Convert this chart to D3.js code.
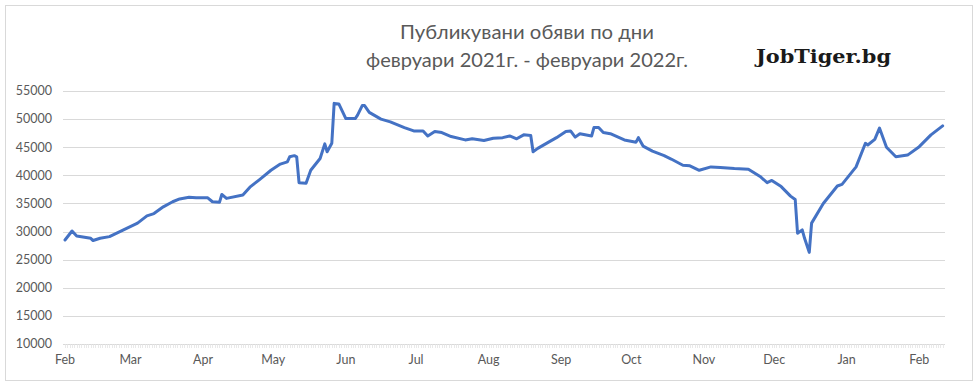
<!DOCTYPE html>
<html>
<head>
<meta charset="utf-8">
<script src="https://cdn.jsdelivr.net/npm/d3@7"></script>
<style>
  body { margin: 0; background: #fff; }
</style>
</head>
<body>
<div id="chart"></div>
<script>
var width = 980,
    height = 386;

// values (date, job ads per day)
var dates = ["2021-02-01","2021-02-04","2021-02-06","2021-02-12","2021-02-13","2021-02-16","2021-02-20","2021-02-26",
  "2021-03-04","2021-03-08","2021-03-11","2021-03-15","2021-03-19","2021-03-22","2021-03-26","2021-03-29",
  "2021-04-03","2021-04-05","2021-04-08","2021-04-09","2021-04-11","2021-04-18","2021-04-21","2021-04-25","2021-04-30",
  "2021-05-04","2021-05-07","2021-05-08","2021-05-10","2021-05-11","2021-05-12","2021-05-15","2021-05-17","2021-05-21",
  "2021-05-23","2021-05-24","2021-05-26","2021-05-27","2021-05-29",
  "2021-06-01","2021-06-05","2021-06-06","2021-06-08","2021-06-09","2021-06-11","2021-06-16","2021-06-20","2021-06-26","2021-06-30",
  "2021-07-04","2021-07-06","2021-07-09","2021-07-12","2021-07-16","2021-07-22","2021-07-25","2021-07-30",
  "2021-08-03","2021-08-07","2021-08-10","2021-08-13","2021-08-16","2021-08-19","2021-08-20","2021-08-22","2021-08-27","2021-08-30",
  "2021-09-03","2021-09-05","2021-09-07","2021-09-09","2021-09-14","2021-09-15","2021-09-17","2021-09-19","2021-09-22","2021-09-28",
  "2021-10-03","2021-10-04","2021-10-06","2021-10-10","2021-10-15","2021-10-18","2021-10-23","2021-10-26","2021-10-30",
  "2021-11-04","2021-11-08","2021-11-14","2021-11-20","2021-11-25","2021-11-28","2021-11-30",
  "2021-12-04","2021-12-08","2021-12-10","2021-12-11","2021-12-13","2021-12-14","2021-12-16","2021-12-17","2021-12-22","2021-12-28","2021-12-30",
  "2022-01-05","2022-01-09","2022-01-10","2022-01-13","2022-01-15","2022-01-18","2022-01-22","2022-01-27",
  "2022-02-01","2022-02-06","2022-02-11"];

var ads = [28500,30100,29200,28800,28400,28800,29100,30300,
  31500,32800,33200,34400,35300,35800,36100,36000,
  36000,35300,35200,36600,35900,36500,37900,39200,40900,
  42000,42400,43300,43500,43300,38700,38600,40900,43000,
  45600,44200,45700,52800,52700,
  50100,50100,50700,52400,52400,51200,50000,49500,48500,47900,
  47900,47000,47800,47600,46900,46300,46500,46200,
  46600,46700,47000,46500,47200,47100,44200,44800,46000,46700,
  47800,47900,46800,47400,47000,48500,48500,47600,47400,46300,
  45900,46700,45200,44300,43500,42900,41800,41700,40900,
  41500,41400,41200,41100,39800,38700,39100,
  38000,36300,35700,29700,30300,28800,26300,31500,35000,38100,38400,
  41500,45700,45400,46400,48400,45000,43300,43600,
  45100,47200,48800];

var yTicks = [10000,15000,20000,25000,30000,35000,40000,45000,50000,55000];
var monthLabels = ["Feb","Mar","Apr","May","Jun","Jul","Aug","Sep","Oct","Nov","Dec","Jan","Feb"];

var parse = d3.timeParse("%Y-%m-%d");
var data = dates.map(function(d, i) { return {date: parse(d), value: ads[i]}; });

var svg = d3.select("#chart").append("svg")
    .attr("width", width)
    .attr("height", height)
    .style("font-family", "Lato, sans-serif");

// outer frame
svg.append("rect")
    .attr("x", 5.5).attr("y", 5.5)
    .attr("width", 967).attr("height", 375)
    .attr("fill", "#fff")
    .attr("stroke", "#d9d9d9");

var x = d3.scaleTime()
    .domain([parse("2021-02-01"), parse("2022-02-12")])
    .range([65, 945]);

var y = d3.scaleLinear()
    .domain([10000, 55000])
    .range([344, 91]);

// gridlines + y labels
svg.append("g")
  .selectAll("line")
  .data(yTicks).enter().append("line")
    .attr("x1", 63).attr("x2", 945)
    .attr("y1", function(d) { return Math.round(y(d)) + 0.5; })
    .attr("y2", function(d) { return Math.round(y(d)) + 0.5; })
    .attr("stroke", "#d9d9d9");

svg.append("g")
  .selectAll("text")
  .data(yTicks).enter().append("text")
    .attr("x", 52)
    .attr("y", function(d) { return y(d); })
    .attr("dy", "0.35em")
    .attr("text-anchor", "end")
    .attr("font-size", 12.5)
    .attr("fill", "#595959")
    .text(function(d) { return d; });

// daily tick marks along the bottom
var days = d3.timeDay.range(parse("2021-02-01"), parse("2022-02-12"));
svg.append("g")
  .selectAll("line")
  .data(days).enter().append("line")
    .attr("x1", function(d) { return Math.round(x(d)) + 0.5; })
    .attr("x2", function(d) { return Math.round(x(d)) + 0.5; })
    .attr("y1", 344).attr("y2", 348)
    .attr("stroke", "#e3e3e3")
    .attr("stroke-width", 0.8);

// month labels
var months = d3.timeMonth.range(parse("2021-02-01"), parse("2022-02-12"));
svg.append("g")
  .selectAll("text")
  .data(months).enter().append("text")
    .attr("x", function(d) { return x(d); })
    .attr("y", 364)
    .attr("text-anchor", "middle")
    .attr("font-size", 12.5)
    .attr("fill", "#595959")
    .text(function(d, i) { return monthLabels[i]; });

// the line
var line = d3.line()
    .x(function(d) { return x(d.date); })
    .y(function(d) { return y(d.value); });

svg.append("path")
    .datum(data)
    .attr("d", line)
    .attr("fill", "none")
    .attr("stroke", "#4472c4")
    .attr("stroke-width", 3)
    .attr("stroke-linejoin", "round")
    .attr("stroke-linecap", "round");

// title
svg.append("text")
    .attr("x", 527).attr("y", 39)
    .attr("text-anchor", "middle")
    .attr("font-size", 19)
    .attr("textLength", 254)
    .attr("lengthAdjust", "spacingAndGlyphs")
    .attr("fill", "#595959")
    .text("Публикувани обяви по дни");
svg.append("text")
    .attr("x", 527).attr("y", 67)
    .attr("text-anchor", "middle")
    .attr("font-size", 19)
    .attr("textLength", 322)
    .attr("lengthAdjust", "spacingAndGlyphs")
    .attr("fill", "#595959")
    .text("февруари 2021г. - февруари 2022г.");

svg.append("text")
    .attr("x", 756).attr("y", 63)
    .style("font-family", "'DejaVu Serif', serif")
    .attr("font-weight", "bold")
    .attr("font-size", 19)
    .attr("textLength", 135)
    .attr("lengthAdjust", "spacingAndGlyphs")
    .attr("fill", "#1a1a1a")
    .text("JobTiger.bg");
</script>
</body>
</html>
